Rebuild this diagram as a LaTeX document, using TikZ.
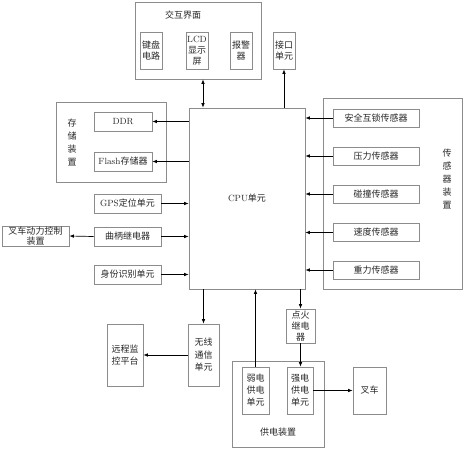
\documentclass[tikz,border=0pt]{standalone}
\usepackage{fontspec}
\newfontfamily\cjk{Noto Sans CJK SC}
\usetikzlibrary{arrows.meta}
\begin{document}
\begin{tikzpicture}[x=1pt,y=-1pt,
  box/.style={draw=black!45,line width=0.7pt,inner sep=0pt,align=center,text=black!85,
    font=\fontsize{9}{11}\selectfont},
  lbl/.style={inner sep=0pt,align=center,text=black!85,font=\fontsize{9}{13}\selectfont\cjk},
  arr/.style={-{Latex[length=4.5pt,width=3.5pt]},line width=0.7pt,black}]
\useasboundingbox (0,0) rectangle (465,450);
% interaction
\node[box,minimum width=126pt,minimum height=77pt] (ui) at (198,40.5) {};
\node[lbl] (uil) at (183,15) {交互界面};
\node[box,minimum width=22pt,minimum height=37pt] (kb) at (151,50.5) {\cjk 键盘\\\cjk 电路};
\node[box,minimum width=22pt,minimum height=37pt] (lcd) at (197,50.5) {LCD\\\cjk 显示\\\cjk 屏};
\node[box,minimum width=22pt,minimum height=37pt] (alarm) at (241,50.5) {\cjk 报警\\\cjk 器};
\node[box,minimum width=22pt,minimum height=37pt] (port) at (284,50.5) {\cjk 接口\\\cjk 单元};
% cpu
\node[box,minimum width=116pt,minimum height=181pt] (cpu) at (247,198.5) {CPU{\cjk 单元}};
% storage
\node[box,minimum width=110pt,minimum height=80pt] (store) at (111,142) {};
\node[lbl] (storel) at (72,142) {存\\储\\装\\置};
\node[box,minimum width=58pt,minimum height=19pt] (ddr) at (123,121.5) {DDR};
\node[box,minimum width=58pt,minimum height=19pt] (flash) at (123,161.5) {Flash{\cjk 存储器}};
% left units
\node[box,minimum width=67pt,minimum height=19pt] (gps) at (127.5,203.5) {GPS{\cjk 定位单元}};
\node[box,minimum width=67pt,minimum height=19pt] (crank) at (127.5,236.5) {\cjk 曲柄继电器};
\node[box,minimum width=67pt,minimum height=19pt] (id) at (127.5,274.5) {\cjk 身份识别单元};
\node[box,minimum width=67pt,minimum height=20pt,font=\fontsize{9}{10}\selectfont] (forkctl) at (35.5,236) {\cjk 叉车动力控制\\\cjk 装置};
% sensors
\node[box,minimum width=139pt,minimum height=191pt] (sens) at (392.5,193.5) {};
\node[lbl] (sensl) at (447,179) {传\\感\\器\\装\\置};
\node[box,minimum width=86pt,minimum height=18pt] (s1) at (376,118) {\cjk 安全互锁传感器};
\node[box,minimum width=86pt,minimum height=18pt] (s2) at (376,156) {\cjk 压力传感器};
\node[box,minimum width=86pt,minimum height=18pt] (s3) at (376,194) {\cjk 碰撞传感器};
\node[box,minimum width=86pt,minimum height=18pt] (s4) at (376,232.5) {\cjk 速度传感器};
\node[box,minimum width=86pt,minimum height=18pt] (s5) at (376,270) {\cjk 重力传感器};
% bottom
\node[box,minimum width=31pt,minimum height=62pt,font=\fontsize{9}{12.5}\selectfont] (wl) at (203.5,355) {\cjk 无线\\\cjk 通信\\\cjk 单元};
\node[box,minimum width=36pt,minimum height=62pt,font=\fontsize{9}{12.5}\selectfont] (remote) at (125,355) {\cjk 远程监\\\cjk 控平台};
\node[box,minimum width=29pt,minimum height=34pt] (ign) at (300.5,326) {\cjk 点火\\\cjk 继电\\\cjk 器};
\node[box,minimum width=92pt,minimum height=86pt] (power) at (278,404) {};
\node[lbl] (powerl) at (278,432) {供电装置};
\node[box,minimum width=27pt,minimum height=47pt,font=\fontsize{9}{12}\selectfont] (weak) at (255.5,390.5) {\cjk 弱电\\\cjk 供电\\\cjk 单元};
\node[box,minimum width=26pt,minimum height=47pt,font=\fontsize{9}{12}\selectfont] (strong) at (300,390.5) {\cjk 强电\\\cjk 供电\\\cjk 单元};
\node[box,minimum width=33pt,minimum height=47pt] (fork) at (369.5,390.5) {\cjk 叉车};
% arrows
\coordinate (a1) at (203,0);
\draw[arr,{Latex[length=4.5pt,width=3.5pt]}-{Latex[length=4.5pt,width=3.5pt]}] (ui.south -| a1) -- (cpu.north -| a1);
\draw[arr] (cpu.north -| port) -- (port.south);
\draw[arr] (cpu.west |- ddr) -- (ddr.east);
\draw[arr] (cpu.west |- flash) -- (flash.east);
\draw[arr] (gps.east) -- (cpu.west |- gps);
\draw[arr] (crank.east) -- (cpu.west |- crank);
\draw[arr] (crank.west) -- (forkctl.east);
\draw[arr] (id.east) -- (cpu.west |- id);
\foreach \s in {s1,s2,s3,s4,s5} \draw[arr] (\s.west) -- (cpu.east |- \s);
\draw[arr] (cpu.south -| wl) -- (wl.north);
\draw[arr] (wl.west) -- (remote.east);
\draw[arr] (weak.north) -- (cpu.south -| weak);
\draw[arr] (cpu.south -| ign) -- (ign.north);
\draw[arr] (ign.south) -- (ign.south |- strong.north);
\draw[arr] (strong.east) -- (fork.west);
\end{tikzpicture}
\end{document}
